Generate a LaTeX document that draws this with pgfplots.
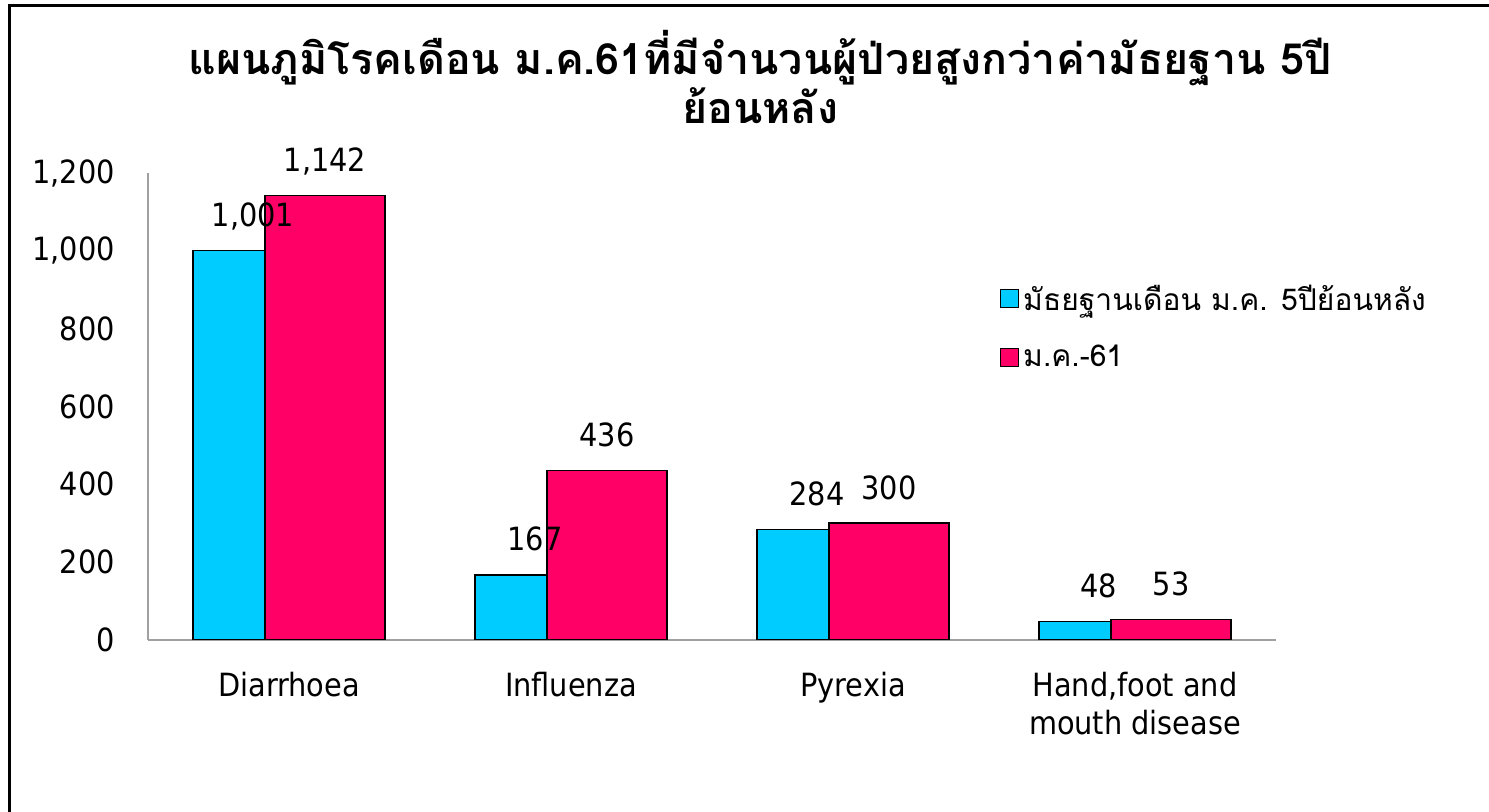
\documentclass[border=0pt]{standalone}
\usepackage{fontspec}
\setmainfont{DejaVu Sans Condensed}
\newfontfamily\thai[Script=Thai]{Loma}
\usepackage{pgfplots}
\usepackage{pgfplotstable}
\pgfplotsset{compat=1.18}
\definecolor{cblue}{HTML}{00CCFF}
\definecolor{cpink}{HTML}{FF0066}
\definecolor{axgray}{HTML}{A0A0A0}

\pgfplotstableread{
x base jan
0 1001 1142
1 167 436
2 284 300
3 48 53
}\data

\begin{document}
\begin{tikzpicture}
\path[use as bounding box] (0,0) rectangle (744.5pt,406pt);
\draw[line width=1.5pt] (4.5pt,0) -- (4.5pt,403pt) -- (744.5pt,403pt);
\node[font=\thai\bfseries\fontsize{21.5}{24.5}\selectfont, align=center, anchor=base] at (380pt,344pt) {แผนภูมิโรคเดือน ม.ค.61ที่มีจำนวนผู้ป่วยสูงกว่าค่ามัธยฐาน 5ปี\\ย้อนหลัง};
\begin{axis}[
 at={(74pt,86pt)}, anchor=south west,
 scale only axis, width=564pt, height=233.5pt,
 xmin=-0.5, xmax=3.5, ymin=0, ymax=1200,
 ybar,
 axis x line*=bottom, axis y line*=left,
 axis line style={axgray, line width=0.8pt, -},
 major tick length=0pt,
 xtick={0,1,2,3},
 xticklabels={Diarrhoea, Influenza, Pyrexia, {Hand,foot and\\mouth disease}},
 xticklabel style={font=\fontsize{16}{19}\selectfont, align=center, anchor=north, inner sep=0pt, yshift=-16pt},
 ytick={0,200,...,1200},
 yticklabel style={font=\fontsize{16}{19}\selectfont, anchor=east, xshift=-13pt},
 /pgf/number format/1000 sep={,},
 /pgf/number format/assume math mode=true,
 every node near coord/.append style={font=\fontsize{16}{19}\selectfont, anchor=base, yshift=12pt, text=black},
 legend image code/.code={\draw[#1,draw=black,line width=0.6pt] (0pt,-4.5pt) rectangle (9pt,4.5pt);},
 legend style={at={(axis description cs:0.755,0.670)}, anchor=west, draw=none, fill=none,
   font=\thai\fontsize{15}{18}\selectfont, row sep=12pt, inner sep=0pt},
 legend cell align=left,
]
\addplot[fill=cblue, draw=black, line width=0.75pt, bar width=0.4255, bar shift=-0.128] table[x=x,y=base]{\data};
\addlegendentry{มัธยฐานเดือน ม.ค. 5ปีย้อนหลัง}
\addplot[fill=cpink, draw=black, line width=0.75pt, bar width=0.4255, bar shift=0.128] table[x=x,y=jan]{\data};
\addlegendentry{ม.ค.-61}
\addplot[draw=none, fill=none, forget plot, bar width=0.4255, bar shift=-0.128, nodes near coords] table[x=x,y=base]{\data};
\addplot[draw=none, fill=none, forget plot, bar width=0.4255, bar shift=0.128, nodes near coords] table[x=x,y=jan]{\data};
\end{axis}
\end{tikzpicture}
\end{document}
